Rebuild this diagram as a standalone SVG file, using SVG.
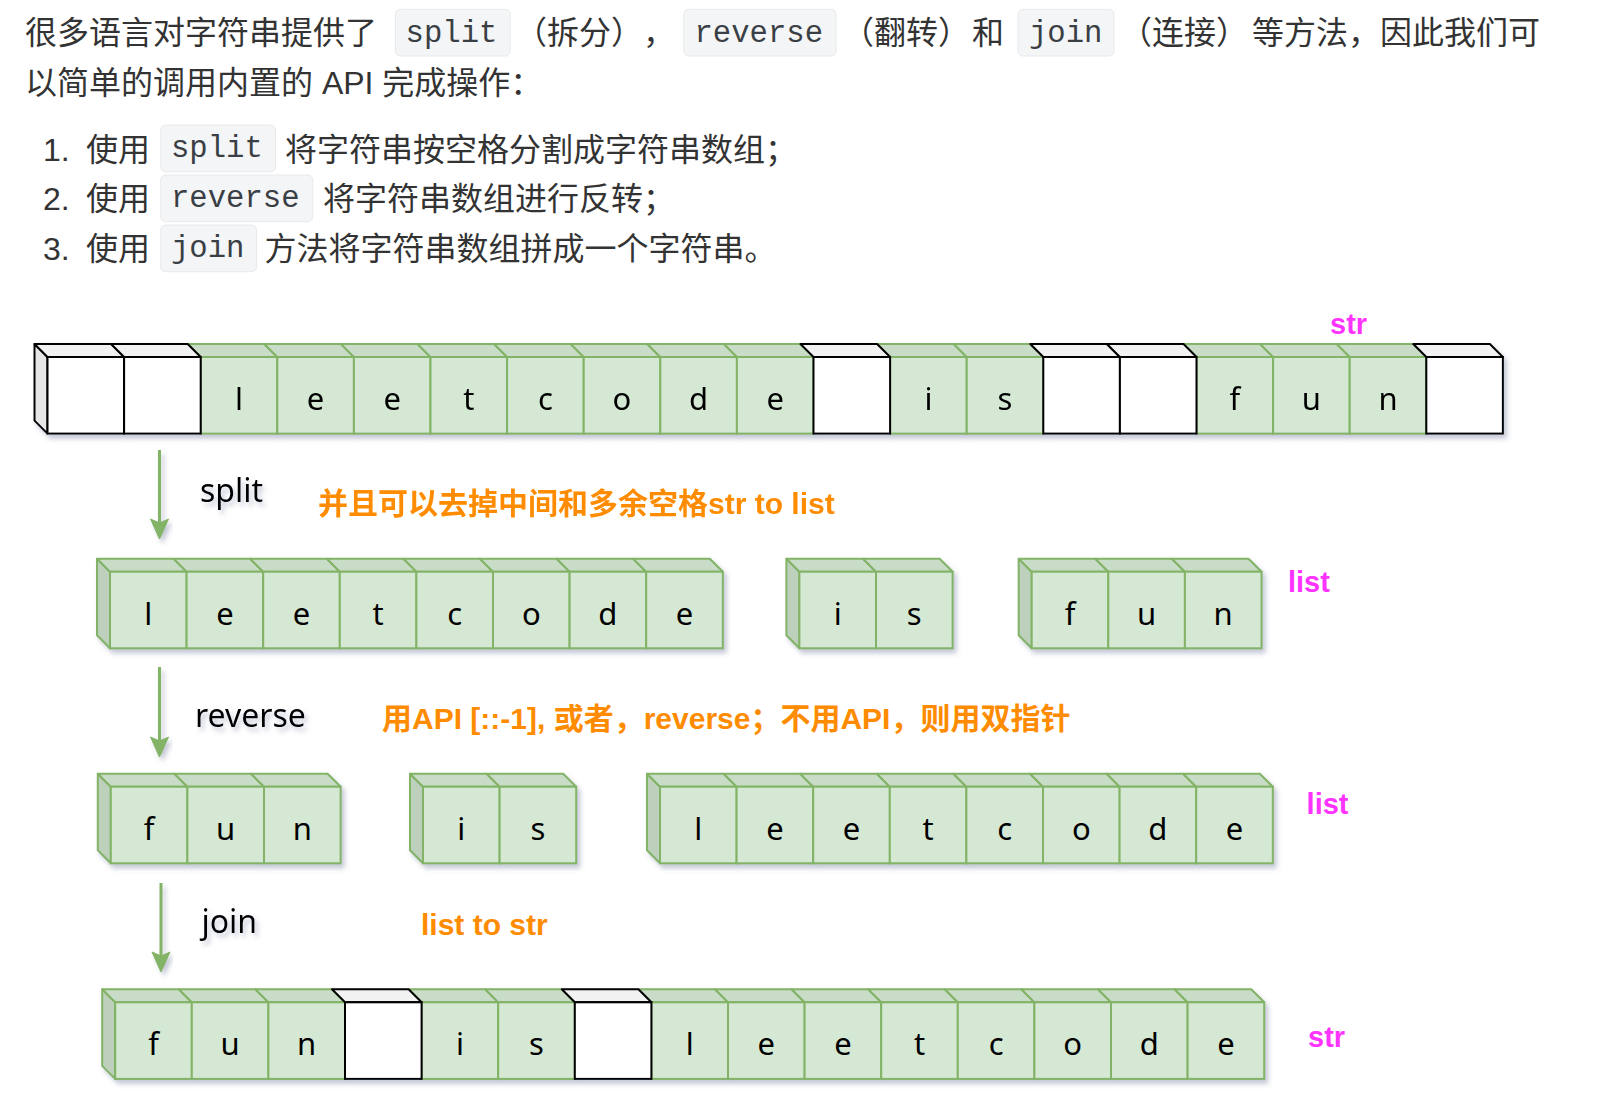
<svg xmlns="http://www.w3.org/2000/svg" xmlns:xlink="http://www.w3.org/1999/xlink" width="1604" height="1096" viewBox="0 0 1604 1096">
<style>
.h{font-family:"Liberation Sans","Noto Sans CJK SC",sans-serif;font-size:32px;fill:#333}
.code{font-family:"Liberation Mono",monospace;font-size:30.6px;fill:#3a3f45}
.cb{fill:#f4f5f6;stroke:#e8e9ea;stroke-width:1}
.gf{fill:#d5e8d4;stroke:#82b366;stroke-width:2}
.gt{fill:#c9dcc8;stroke:#82b366;stroke-width:2;stroke-linejoin:round}
.gs{fill:#bdd0bc;stroke:#82b366;stroke-width:2;stroke-linejoin:round}
.wf{fill:#ffffff;stroke:#000;stroke-width:2}
.wt{fill:#f2f2f2;stroke:#000;stroke-width:2;stroke-linejoin:round}
.ws{fill:#e6e6e6;stroke:#000;stroke-width:2;stroke-linejoin:round}
.ch{font-family:"Noto Sans",sans-serif;font-size:31px;fill:#000;text-anchor:middle}
.lb{font-family:"Noto Sans",sans-serif;font-size:32px;fill:#000}
.or{font-family:"Liberation Sans","Noto Sans CJK SC",sans-serif;font-weight:bold;font-size:30px;fill:#FF8C00}
.pk{font-family:"Liberation Sans",sans-serif;font-weight:bold;font-size:29px;fill:#FF33FF}
.ar{stroke:#82b366;stroke-width:3;fill:none}
.ah{fill:#82b366;stroke:#82b366;stroke-width:1;stroke-linejoin:round}
</style>
<defs>
<filter id="sh" x="-10%" y="-20%" width="125%" height="150%">
<feDropShadow dx="3" dy="4" stdDeviation="2.5" flood-color="#6b7396" flood-opacity="0.4"/>
</filter>
<g id="cg"><polygon class="gt" points="0,0 76.6,0 63.6,-13 -13,-13"/><rect class="gf" x="0" y="0" width="76.6" height="76.6"/></g>
<g id="cw"><polygon class="wt" points="0,0 76.6,0 63.6,-13 -13,-13"/><rect class="wf" x="0" y="0" width="76.6" height="76.6"/></g>
<polygon id="lg" class="gs" points="-13,-13 0,0 0,76.6 -13,63.6"/>
<polygon id="lw" class="ws" points="-13,-13 0,0 0,76.6 -13,63.6"/>
</defs>
<rect width="1604" height="1096" fill="#ffffff"/>

<g id="intro">
<text class="h" x="25" y="44">很多语言对字符串提供了</text>
<rect class="cb" x="395.4" y="9.3" width="114.8" height="46.7" rx="5"/>
<text class="code" x="405.6" y="41.7">split</text>
<text class="h" x="515" y="44">（拆分）</text>
<text class="h" x="643" y="44">，</text>
<rect class="cb" x="683.7" y="9.3" width="152.3" height="46.7" rx="5"/>
<text class="code" x="694.5" y="41.7">reverse</text>
<text class="h" x="842" y="44">（翻转）</text>
<text class="h" x="972" y="44">和</text>
<rect class="cb" x="1018" y="9.3" width="96" height="46.7" rx="5"/>
<text class="code" x="1029" y="41.7">join</text>
<text class="h" x="1120" y="44">（连接）</text>
<text class="h" x="1252" y="44">等方法，因此我们可</text>
<text class="h" x="25" y="94">以简单的调用内置的 API 完成操作：</text>

<text class="h" x="43" y="160.5">1.</text>
<text class="h" x="86" y="160.5">使用</text>
<rect class="cb" x="160.7" y="125" width="114.8" height="46.7" rx="5"/>
<text class="code" x="171" y="157">split</text>
<text class="h" x="285" y="160.5">将字符串按空格分割成字符串数组；</text>

<text class="h" x="43" y="210">2.</text>
<text class="h" x="86" y="210">使用</text>
<rect class="cb" x="160.7" y="175" width="152.1" height="46.7" rx="5"/>
<text class="code" x="171" y="207">reverse</text>
<text class="h" x="323" y="210">将字符串数组进行反转；</text>

<text class="h" x="43" y="260">3.</text>
<text class="h" x="86" y="260">使用</text>
<rect class="cb" x="160.7" y="225" width="95.9" height="46.7" rx="5"/>
<text class="code" x="171" y="257">join</text>
<text class="h" x="264.5" y="260">方法将字符串数组拼成一个字符串。</text>
</g>

<g id="connectors">
<g filter="url(#sh)">
<line class="ar" x1="159.5" y1="450" x2="159.5" y2="525"/>
<path class="ah" d="M159.5,539 L150.5,519 L159.5,523 L168.5,519 Z"/>
<line class="ar" x1="159.5" y1="667" x2="159.5" y2="743"/>
<path class="ah" d="M159.5,757 L150.5,737 L159.5,741 L168.5,737 Z"/>
<line class="ar" x1="161" y1="883" x2="161" y2="958"/>
<path class="ah" d="M161,972 L152,952 L161,956 L170,952 Z"/>
</g>
</g>

<g id="str-original">
<g filter="url(#sh)">
<use href="#lw" x="47.5" y="357"/>
<use href="#cg" x="200.7" y="357"/>
<use href="#cg" x="277.3" y="357"/>
<use href="#cg" x="353.9" y="357"/>
<use href="#cg" x="430.5" y="357"/>
<use href="#cg" x="507.1" y="357"/>
<use href="#cg" x="583.7" y="357"/>
<use href="#cg" x="660.3" y="357"/>
<use href="#cg" x="736.9" y="357"/>
<use href="#cg" x="890.1" y="357"/>
<use href="#cg" x="966.7" y="357"/>
<use href="#cg" x="1196.5" y="357"/>
<use href="#cg" x="1273.1" y="357"/>
<use href="#cg" x="1349.7" y="357"/>
<use href="#cw" x="47.5" y="357"/>
<use href="#cw" x="124.1" y="357"/>
<use href="#cw" x="813.5" y="357"/>
<use href="#cw" x="1043.3" y="357"/>
<use href="#cw" x="1119.9" y="357"/>
<use href="#cw" x="1426.3" y="357"/>
</g>
<text class="ch" x="239" y="410">l</text>
<text class="ch" x="315.6" y="410">e</text>
<text class="ch" x="392.2" y="410">e</text>
<text class="ch" x="468.8" y="410">t</text>
<text class="ch" x="545.4" y="410">c</text>
<text class="ch" x="622" y="410">o</text>
<text class="ch" x="698.6" y="410">d</text>
<text class="ch" x="775.2" y="410">e</text>
<text class="ch" x="928.4" y="410">i</text>
<text class="ch" x="1005" y="410">s</text>
<text class="ch" x="1234.8" y="410">f</text>
<text class="ch" x="1311.4" y="410">u</text>
<text class="ch" x="1388" y="410">n</text>
</g>
<text class="pk" x="1330" y="334">str</text>

<text class="lb" x="200" y="502" filter="url(#sh)">split</text>
<text class="or" x="318" y="514">并且可以去掉中间和多余空格str to list</text>

<g id="list-leetcode">
<g filter="url(#sh)">
<use href="#lg" x="110" y="571.7"/>
<use href="#cg" x="110" y="571.7"/>
<use href="#cg" x="186.6" y="571.7"/>
<use href="#cg" x="263.2" y="571.7"/>
<use href="#cg" x="339.8" y="571.7"/>
<use href="#cg" x="416.4" y="571.7"/>
<use href="#cg" x="493" y="571.7"/>
<use href="#cg" x="569.6" y="571.7"/>
<use href="#cg" x="646.2" y="571.7"/>
</g>
<text class="ch" x="148.3" y="624.7">l</text>
<text class="ch" x="224.9" y="624.7">e</text>
<text class="ch" x="301.5" y="624.7">e</text>
<text class="ch" x="378.1" y="624.7">t</text>
<text class="ch" x="454.7" y="624.7">c</text>
<text class="ch" x="531.3" y="624.7">o</text>
<text class="ch" x="607.9" y="624.7">d</text>
<text class="ch" x="684.5" y="624.7">e</text>
</g>
<g id="list-is">
<g filter="url(#sh)">
<use href="#lg" x="799.4" y="571.7"/>
<use href="#cg" x="799.4" y="571.7"/>
<use href="#cg" x="876" y="571.7"/>
</g>
<text class="ch" x="837.7" y="624.7">i</text>
<text class="ch" x="914.3" y="624.7">s</text>
</g>
<g id="list-fun">
<g filter="url(#sh)">
<use href="#lg" x="1031.7" y="571.7"/>
<use href="#cg" x="1031.7" y="571.7"/>
<use href="#cg" x="1108.3" y="571.7"/>
<use href="#cg" x="1184.9" y="571.7"/>
</g>
<text class="ch" x="1070" y="624.7">f</text>
<text class="ch" x="1146.6" y="624.7">u</text>
<text class="ch" x="1223.2" y="624.7">n</text>
</g>
<text class="pk" x="1288" y="591.7">list</text>

<text class="lb" x="195" y="727" filter="url(#sh)">reverse</text>
<text class="or" x="382" y="729">用API [::-1], 或者，reverse；不用API，则用双指针</text>

<g id="rev-fun">
<g filter="url(#sh)">
<use href="#lg" x="110.8" y="786.7"/>
<use href="#cg" x="110.8" y="786.7"/>
<use href="#cg" x="187.4" y="786.7"/>
<use href="#cg" x="264" y="786.7"/>
</g>
<text class="ch" x="149.1" y="839.7">f</text>
<text class="ch" x="225.7" y="839.7">u</text>
<text class="ch" x="302.3" y="839.7">n</text>
</g>
<g id="rev-is">
<g filter="url(#sh)">
<use href="#lg" x="423" y="786.7"/>
<use href="#cg" x="423" y="786.7"/>
<use href="#cg" x="499.6" y="786.7"/>
</g>
<text class="ch" x="461.3" y="839.7">i</text>
<text class="ch" x="537.9" y="839.7">s</text>
</g>
<g id="rev-leetcode">
<g filter="url(#sh)">
<use href="#lg" x="660" y="786.7"/>
<use href="#cg" x="660" y="786.7"/>
<use href="#cg" x="736.6" y="786.7"/>
<use href="#cg" x="813.2" y="786.7"/>
<use href="#cg" x="889.8" y="786.7"/>
<use href="#cg" x="966.4" y="786.7"/>
<use href="#cg" x="1043" y="786.7"/>
<use href="#cg" x="1119.6" y="786.7"/>
<use href="#cg" x="1196.2" y="786.7"/>
</g>
<text class="ch" x="698.3" y="839.7">l</text>
<text class="ch" x="774.9" y="839.7">e</text>
<text class="ch" x="851.5" y="839.7">e</text>
<text class="ch" x="928.1" y="839.7">t</text>
<text class="ch" x="1004.7" y="839.7">c</text>
<text class="ch" x="1081.3" y="839.7">o</text>
<text class="ch" x="1157.9" y="839.7">d</text>
<text class="ch" x="1234.5" y="839.7">e</text>
</g>
<text class="pk" x="1306.6" y="814">list</text>

<text class="lb" x="201.5" y="933" filter="url(#sh)">join</text>
<text class="or" x="421" y="935">list to str</text>

<g id="str-joined">
<g filter="url(#sh)">
<use href="#lg" x="115.2" y="1002.3"/>
<use href="#cg" x="115.2" y="1002.3"/>
<use href="#cg" x="191.8" y="1002.3"/>
<use href="#cg" x="268.4" y="1002.3"/>
<use href="#cg" x="421.6" y="1002.3"/>
<use href="#cg" x="498.2" y="1002.3"/>
<use href="#cg" x="651.4" y="1002.3"/>
<use href="#cg" x="728" y="1002.3"/>
<use href="#cg" x="804.6" y="1002.3"/>
<use href="#cg" x="881.2" y="1002.3"/>
<use href="#cg" x="957.8" y="1002.3"/>
<use href="#cg" x="1034.4" y="1002.3"/>
<use href="#cg" x="1111" y="1002.3"/>
<use href="#cg" x="1187.6" y="1002.3"/>
<use href="#cw" x="345" y="1002.3"/>
<use href="#cw" x="574.8" y="1002.3"/>
</g>
<text class="ch" x="153.5" y="1055.3">f</text>
<text class="ch" x="230.1" y="1055.3">u</text>
<text class="ch" x="306.7" y="1055.3">n</text>
<text class="ch" x="459.9" y="1055.3">i</text>
<text class="ch" x="536.5" y="1055.3">s</text>
<text class="ch" x="689.7" y="1055.3">l</text>
<text class="ch" x="766.3" y="1055.3">e</text>
<text class="ch" x="842.9" y="1055.3">e</text>
<text class="ch" x="919.5" y="1055.3">t</text>
<text class="ch" x="996.1" y="1055.3">c</text>
<text class="ch" x="1072.7" y="1055.3">o</text>
<text class="ch" x="1149.3" y="1055.3">d</text>
<text class="ch" x="1225.9" y="1055.3">e</text>
</g>
<text class="pk" x="1308" y="1047.3">str</text>
</svg>
